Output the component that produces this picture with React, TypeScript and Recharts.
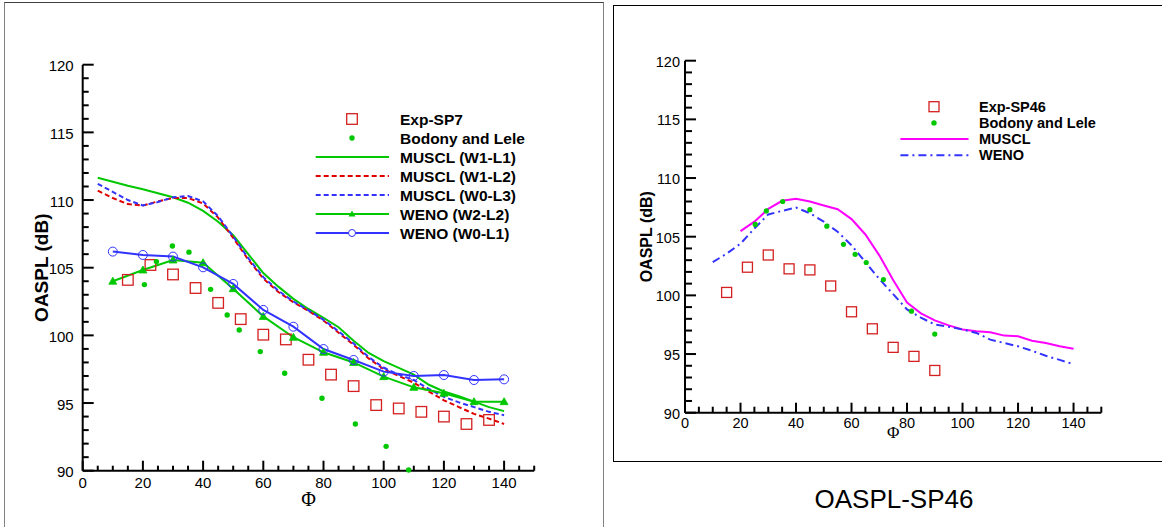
import React from 'react';
import { ComposedChart, Line, Scatter, XAxis, YAxis, Legend } from 'recharts';

// ---------- SP7 (left panel) ----------
const sp7ExpAngles = [15, 22.5, 30, 37.5, 45, 52.5, 60, 67.5, 75, 82.5, 90, 97.5, 105, 112.5, 120, 127.5, 135];
const sp7ExpLevels = [104.1, 105.2, 104.5, 103.5, 102.4, 101.2, 100.05, 99.7, 98.2, 97.1, 96.25, 94.85, 94.6, 94.35, 94.0, 93.45, 93.75];

const sp7BodonyAngles = [20.5, 24.5, 29.8, 35.3, 42.5, 48, 52, 59, 67.1, 79.5, 90.6, 100.8, 108.3];
const sp7BodonyLevels = [103.75, 105.45, 106.6, 106.15, 103.4, 101.5, 100.4, 98.8, 97.2, 95.35, 93.45, 91.8, 90.05];

const sp7MusclAngles = [5, 10, 15, 20, 25, 30, 35, 40, 45, 50, 55, 60, 65, 70, 75, 80, 85, 90, 95, 100, 105, 110, 115, 120, 125, 130, 135, 140];
const sp7MusclW1L1 = [111.65, 111.35, 111.05, 110.8, 110.5, 110.2, 109.8, 109.2, 108.4, 107.4, 106.0, 104.6, 103.6, 102.7, 101.95, 101.3, 100.6, 99.6, 98.7, 98.1, 97.6, 97.1, 96.35, 95.85, 95.5, 95.1, 94.7, 94.4];
const sp7MusclW1L2 = [110.7, 110.15, 109.7, 109.6, 109.9, 110.15, 110.15, 109.75, 108.7, 107.2, 105.6, 104.2, 103.2, 102.45, 101.8, 101.1, 100.2, 99.3, 98.3, 97.5, 97.0, 96.5, 95.85, 95.2, 94.7, 94.2, 93.85, 93.45];
const sp7MusclW0L3 = [111.2, 110.6, 110.0, 109.6, 109.85, 110.2, 110.3, 109.9, 108.8, 107.3, 105.7, 104.3, 103.3, 102.5, 101.85, 101.15, 100.3, 99.4, 98.4, 97.6, 97.1, 96.7, 96.05, 95.45, 95.05, 94.7, 94.35, 94.1];

const sp7WenoAngles = [10, 20, 30, 40, 50, 60, 70, 80, 90, 100, 110, 120, 130, 140];
const sp7WenoW2L2 = [104.0, 104.83, 105.57, 105.37, 103.45, 101.4, 99.86, 98.75, 98.0, 96.95, 96.16, 95.72, 95.1, 95.1];
const sp7WenoW0L1 = [106.19, 105.94, 105.82, 105.03, 103.8, 101.88, 100.64, 98.99, 98.18, 97.32, 97.0, 97.07, 96.7, 96.75];

const sp7Labels = ['Exp-SP7', 'Bodony and Lele', 'MUSCL (W1-L1)', 'MUSCL (W1-L2)', 'MUSCL (W0-L3)', 'WENO (W2-L2)', 'WENO (W0-L1)'];

// ---------- SP46 (right panel) ----------
const sp46ExpAngles = [15, 22.5, 30, 37.5, 45, 52.5, 60, 67.5, 75, 82.5, 90];
const sp46ExpLevels = [100.25, 102.4, 103.44, 102.26, 102.17, 100.8, 98.6, 97.15, 95.57, 94.8, 93.6];

const sp46BodonyAngles = [25.3, 29.3, 35.2, 45, 51.1, 57.1, 61.3, 65.3, 71.5, 81.6, 90];
const sp46BodonyLevels = [106.05, 107.2, 108.0, 107.3, 105.9, 104.35, 103.5, 102.8, 101.35, 98.65, 96.7];

const sp46MusclAngles = [20, 25, 30, 35, 40, 45, 50, 55, 60, 65, 70, 75, 80, 85, 90, 95, 100, 105, 110, 115, 120, 125, 130, 135, 140];
const sp46Muscl = [105.47, 106.28, 107.37, 108.06, 108.23, 108.0, 107.66, 107.34, 106.5, 105.19, 103.41, 101.31, 99.39, 98.47, 97.87, 97.44, 97.09, 96.95, 96.86, 96.57, 96.52, 96.14, 95.94, 95.66, 95.45];

const sp46WenoAngles = [10, 15, 20, 25, 30, 35, 40, 45, 50, 55, 60, 65, 70, 75, 80, 85, 90, 95, 100, 105, 110, 115, 120, 125, 130, 135, 140];
const sp46Weno = [102.83, 103.55, 104.41, 105.7, 106.9, 107.2, 107.48, 107.0, 106.28, 105.42, 104.27, 102.83, 101.4, 100.11, 98.8, 98.1, 97.52, 97.32, 97.09, 96.8, 96.23, 95.94, 95.66, 95.28, 94.85, 94.5, 94.13];

const sp46Labels = ['Exp-SP46', 'Bodony and Lele', 'MUSCL', 'WENO'];

// ---------- axes ----------
const xTicks = [0, 5, 10, 15, 20, 25, 30, 35, 40, 45, 50, 55, 60, 65, 70, 75, 80, 85, 90, 95, 100, 105, 110, 115, 120, 125, 130, 135, 140, 145, 150];
const yTicks = [90, 91, 92, 93, 94, 95, 96, 97, 98, 99, 100, 101, 102, 103, 104, 105, 106, 107, 108, 109, 110, 111, 112, 113, 114, 115, 116, 117, 118, 119, 120];

const SANS = '"Liberation Sans", Arial, sans-serif';
const SERIF = '"Liberation Serif", "Times New Roman", serif';
const GREEN = '#00c800';
const RED = '#e00000';
const SQUARE_RED = '#d42020';
const BLUE = '#3333ff';
const MAGENTA = '#ff00ff';

const pts = (xs: number[], ys: number[]) => xs.map((x, i) => ({ x, y: ys[i] }));

// Tecplot-style ticks: pointing into the plot, labelled every 20 (x) / 5 (y)
const makeXTick = (major: number, minor: number, fontSize: number, dy: number) => (props: any) => {
  const { x, y, payload } = props;
  const v = payload.value;
  const isMajor = v % 20 === 0;
  return (
    <g>
      <path d={`M${x},${y} V${y - (isMajor ? major : minor)}`} stroke="#000" strokeWidth={2} fill="none" />
      {isMajor && (
        <text x={x} y={y + dy} textAnchor="middle" dominantBaseline="central" fontSize={fontSize} fontFamily={SANS} fill="#000">
          {v}
        </text>
      )}
    </g>
  );
};

const makeYTick = (major: number, minor: number, fontSize: number, dx: number) => (props: any) => {
  const { x, y, payload } = props;
  const v = payload.value;
  const isMajor = v % 5 === 0;
  return (
    <g>
      <path d={`M${x},${y} H${x + (isMajor ? major : minor)}`} stroke="#000" strokeWidth={2} fill="none" />
      {isMajor && (
        <text x={x - dx} y={y + 1} textAnchor="end" dominantBaseline="central" fontSize={fontSize} fontFamily={SANS} fill="#000">
          {v}
        </text>
      )}
    </g>
  );
};

const square = (size: number) => (p: any) => (
  <rect x={p.cx - size / 2} y={p.cy - size / 2} width={size} height={size} fill="none" stroke={SQUARE_RED} strokeWidth={1.3} />
);
const dotShape = (r: number) => (p: any) => <circle cx={p.cx} cy={p.cy} r={r} fill={GREEN} />;
const triangle = (p: any) => (
  <path key={`t${p.index}`} d={`M${p.cx},${p.cy - 4} L${p.cx + 4},${p.cy + 3} L${p.cx - 4},${p.cy + 3} Z`} fill={GREEN} stroke={GREEN} strokeWidth={0.8} />
);

type Sym = { kind: 'square' | 'dot' | 'line'; color?: string; dash?: string; marker?: 'tri' | 'circle' };

const sp7Symbols: Sym[] = [
  { kind: 'square' },
  { kind: 'dot' },
  { kind: 'line', color: GREEN },
  { kind: 'line', color: RED, dash: '5 3' },
  { kind: 'line', color: BLUE, dash: '5 3' },
  { kind: 'line', color: GREEN, marker: 'tri' },
  { kind: 'line', color: BLUE, marker: 'circle' },
];
const sp46Symbols: Sym[] = [
  { kind: 'square' },
  { kind: 'dot' },
  { kind: 'line', color: MAGENTA },
  { kind: 'line', color: BLUE, dash: '8 4 2 4' },
];

const legendBox = (
  labels: string[], symbols: Sym[], w: number, h: number,
  y0: number, step: number, sx: number, lx1: number, lx2: number, tx: number, fontSize: number, sq: number,
) => () => (
  <svg width={w} height={h} style={{ display: 'block' }}>
    {labels.map((label, i) => {
      const y = y0 + i * step;
      const s = symbols[i];
      return (
        <g key={label}>
          {s.kind === 'square' && <rect x={sx - sq / 2} y={y - sq / 2} width={sq} height={sq} fill="none" stroke={SQUARE_RED} strokeWidth={1.3} />}
          {s.kind === 'dot' && <circle cx={sx} cy={y} r={2.7} fill={GREEN} />}
          {s.kind === 'line' && <path d={`M${lx1},${y} H${lx2}`} stroke={s.color} strokeWidth={2} strokeDasharray={s.dash} fill="none" />}
          {s.marker === 'tri' && <path d={`M${sx},${y - 3.5} L${sx + 3.5},${y + 2.5} L${sx - 3.5},${y + 2.5} Z`} fill={GREEN} />}
          {s.marker === 'circle' && <circle cx={sx} cy={y} r={3.5} fill="#fff" stroke={BLUE} strokeWidth={1} />}
          <text x={tx} y={y} dominantBaseline="central" fontSize={fontSize} fontWeight="bold" fontFamily={SANS} fill="#000">
            {label}
          </text>
        </g>
      );
    })}
  </svg>
);

const yTitle = (dxFromPlot: number, fontSize: number) => (p: any) => {
  const vb = p.viewBox;
  const x = vb.x + vb.width - dxFromPlot;
  const y = vb.y + vb.height / 2;
  return (
    <text x={x} y={y} transform={`rotate(-90, ${x}, ${y})`} textAnchor="middle" dominantBaseline="central" fontSize={fontSize} fontWeight="bold" fontFamily={SANS} fill="#000">
      OASPL (dB)
    </text>
  );
};

const xTitle = (dy: number, fontSize: number) => (p: any) => {
  const vb = p.viewBox;
  return (
    <text x={vb.x + vb.width / 2} y={vb.y + dy} textAnchor="middle" dominantBaseline="central" fontSize={fontSize} fontFamily={SERIF} fill="#000">
      Φ
    </text>
  );
};

export default function App() {
  return (
    <div style={{ position: 'fixed', left: 0, top: 0, width: 1162, height: 527, background: '#fff', overflow: 'hidden' }}>
      <div style={{ position: 'absolute', left: 4, top: 2, width: 598, height: 560, borderLeft: '1px solid #808080', borderRight: '1px solid #808080', borderTop: '1px solid #404040' }} />
      <div style={{ position: 'absolute', left: 613, top: 5, width: 560, height: 455, border: '1px solid #000' }} />

      <div style={{ position: 'absolute', left: 0, top: 0 }}>
        <ComposedChart width={600} height={527} margin={{ top: 64.7, right: 65.8, bottom: 26.3, left: 22.7 }}>
          <XAxis
            type="number" dataKey="x" domain={[0, 150]} ticks={xTicks} interval={0}
            height={30} tickSize={0} tickMargin={0} tickLine={false}
            axisLine={{ stroke: '#000', strokeWidth: 2 }}
            tick={makeXTick(10, 5, 15, 12)}
            label={{ content: xTitle(28.5, 20) }}
          />
          <YAxis
            type="number" dataKey="y" domain={[90, 120]} ticks={yTicks} interval={0}
            width={60} tickSize={0} tickMargin={0} tickLine={false}
            axisLine={{ stroke: '#000', strokeWidth: 2 }}
            tick={makeYTick(11, 6, 15, 9)}
            label={{ content: yTitle(40.7, 19) }}
          />
          <Legend
            layout="vertical" align="center" verticalAlign="middle"
            wrapperStyle={{ left: 300, top: 105, width: 270, height: 140 }}
            content={legendBox(sp7Labels, sp7Symbols, 270, 140, 14, 19, 52, 15.7, 89, 100, 15.5, 10.6)}
          />
          <Scatter data={pts(sp7ExpAngles, sp7ExpLevels)} dataKey="y" shape={square(10.6)} isAnimationActive={false} />
          <Scatter data={pts(sp7BodonyAngles, sp7BodonyLevels)} dataKey="y" shape={dotShape(2.7)} isAnimationActive={false} />
          <Line data={pts(sp7MusclAngles, sp7MusclW1L1)} dataKey="y" type="linear" stroke={GREEN} strokeWidth={2} dot={false} isAnimationActive={false} />
          <Line data={pts(sp7MusclAngles, sp7MusclW1L2)} dataKey="y" type="linear" stroke={RED} strokeWidth={2} strokeDasharray="5 3" dot={false} isAnimationActive={false} />
          <Line data={pts(sp7MusclAngles, sp7MusclW0L3)} dataKey="y" type="linear" stroke={BLUE} strokeWidth={2} strokeDasharray="5 3" dot={false} isAnimationActive={false} />
          <Line data={pts(sp7WenoAngles, sp7WenoW2L2)} dataKey="y" type="linear" stroke={GREEN} strokeWidth={2} dot={triangle} isAnimationActive={false} />
          <Line data={pts(sp7WenoAngles, sp7WenoW0L1)} dataKey="y" type="linear" stroke={BLUE} strokeWidth={2} dot={{ r: 4.5, fill: 'none', stroke: BLUE, strokeWidth: 1 }} isAnimationActive={false} />
        </ComposedChart>
      </div>

      <div style={{ position: 'absolute', left: 613, top: 6 }}>
        <ComposedChart width={549} height={456} margin={{ top: 54.7, right: 60.7, bottom: 19.3, left: 12 }}>
          <XAxis
            type="number" dataKey="x" domain={[0, 150]} ticks={xTicks} interval={0}
            height={30} tickSize={0} tickMargin={0} tickLine={false}
            axisLine={{ stroke: '#000', strokeWidth: 2 }}
            tick={makeXTick(10, 6, 14.5, 10)}
            label={{ content: xTitle(19.5, 17) }}
          />
          <YAxis
            type="number" dataKey="y" domain={[90, 120]} ticks={yTicks} interval={0}
            width={60} tickSize={0} tickMargin={0} tickLine={false}
            axisLine={{ stroke: '#000', strokeWidth: 2 }}
            tick={makeYTick(11, 7, 14.5, 5)}
            label={{ content: yTitle(38, 16) }}
          />
          <Legend
            layout="vertical" align="center" verticalAlign="middle"
            wrapperStyle={{ left: 282, top: 89, width: 240, height: 75 }}
            content={legendBox(sp46Labels, sp46Symbols, 240, 75, 11.7, 16.2, 39, 5.4, 73.5, 84, 14.5, 10)}
          />
          <Scatter data={pts(sp46ExpAngles, sp46ExpLevels)} dataKey="y" shape={square(10)} isAnimationActive={false} />
          <Scatter data={pts(sp46BodonyAngles, sp46BodonyLevels)} dataKey="y" shape={dotShape(2.6)} isAnimationActive={false} />
          <Line data={pts(sp46MusclAngles, sp46Muscl)} dataKey="y" type="linear" stroke={MAGENTA} strokeWidth={2} dot={false} isAnimationActive={false} />
          <Line data={pts(sp46WenoAngles, sp46Weno)} dataKey="y" type="linear" stroke={BLUE} strokeWidth={2} strokeDasharray="8 4 2 4" dot={false} isAnimationActive={false} />
        </ComposedChart>
      </div>

      <div style={{ position: 'absolute', left: 794, top: 484.5, width: 200, textAlign: 'center', fontFamily: SANS, fontSize: 26, lineHeight: '29px', color: '#000' }}>
        OASPL-SP46
      </div>
    </div>
  );
}
